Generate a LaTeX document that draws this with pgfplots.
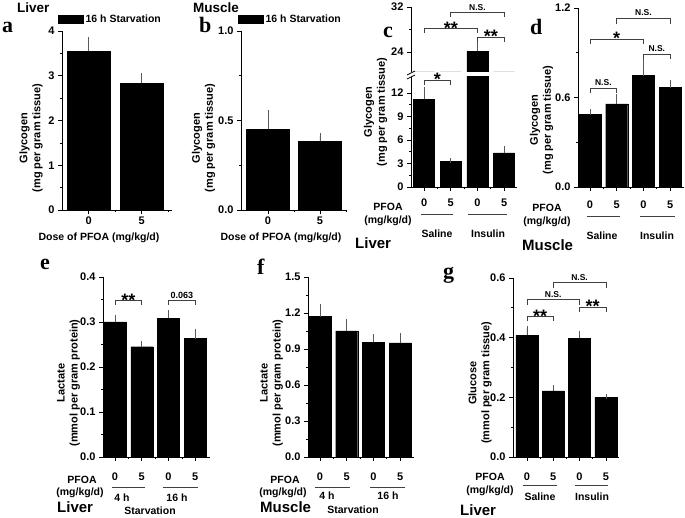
\documentclass[border=0pt]{standalone}
\usepackage{pgfplots}
\pgfplotsset{compat=1.18}
\usepackage{fontspec}
\setmainfont{Liberation Sans}
\newfontfamily\serifb{Liberation Serif}
\newcommand\tl{\fontsize{11}{12}\selectfont\bfseries}
\newcommand\yl{\fontsize{11}{13}\selectfont\bfseries}
\newcommand\an{\fontsize{10.5}{12}\selectfont\bfseries}
\newcommand\tit{\fontsize{13.5}{15}\selectfont\bfseries}
\newcommand\tis{\fontsize{15}{17}\selectfont\bfseries}
\newcommand\panl{\serifb\bfseries\fontsize{22}{24}\selectfont}
\newcommand\nsf{\fontsize{8.5}{10}\selectfont\bfseries}
\newcommand\starf{\fontsize{18}{20}\selectfont\bfseries}
\tikzset{brkstyle/.style={line width=0.7pt, black!75}, pl/.style={line width=0.8pt, black!75}}
\newcommand\brk[6]{%
 \draw[brkstyle] (axis cs:#1,#4) |- (axis cs:#2,#5) -- (axis cs:#2,#4);
 \node[font=\nsf, anchor=base, inner sep=0pt, yshift=2.5pt] at (axis cs:#3,#5) {#6};}
\newcommand\brs[6]{%
 \draw[brkstyle] (axis cs:#1,#4) |- (axis cs:#2,#5) -- (axis cs:#2,#4);
 \node[font=\starf, anchor=base, inner sep=0pt, yshift=-5.4pt] at (axis cs:#3,#5) {#6};}
\newcommand\xl[3]{\node[font=\tl, yshift=-#3pt] at (axis cs:#1,0) {#2};}
\pgfplotsset{
 base/.style={
  scale only axis, anchor=south west,
  axis x line*=bottom, axis y line*=left,
  axis line style={-, line width=0.7pt, black},
  every outer x axis line/.append style={-},
  every outer y axis line/.append style={-},
  tick align=outside, tick style={black, line width=0.7pt},
  major tick length=4pt, minor tick length=2.2pt,
  minor y tick num=1,
  xticklabels={},
  ymin=0,
  /pgf/number format/assume math mode=true,
  yticklabel style={font=\tl, /pgf/number format/.cd, fixed, fixed zerofill, precision=1},
  ybar,
  clip=false,
  enlargelimits=false,
 },
 bars/.style={fill=black, draw=black, line width=0.4pt, error bars/.cd, y dir=plus, y explicit, error bar style={line width=0.6pt, black!65}, error mark options={line width=0.6pt, black!65, mark size=2.5pt}},
}
\begin{document}
\begin{tikzpicture}[x=1pt,y=1pt]
\useasboundingbox (0,0) rectangle (685,518);
% ---------- a ----------
\begin{axis}[base, at={(62pt,308pt)}, width=110pt, height=179pt, xmin=-0.5, xmax=1.57, ymax=4,
  ytick={0,1,2,3,4}, yticklabel style={/pgf/number format/precision=0},
  xtick={0,1}, minor xtick={0.5,1.5}, bar width=43pt,
  legend style={at={(axis description cs:-0.036,1.067)}, anchor=west, draw=none, fill=none, font=\an, inner sep=0pt}]
\addplot[legend image code/.code={\fill[black] (0pt,-4pt) rectangle (25pt,4pt);}, bars] coordinates {(0,3.55) +- (0,0.25) (1,2.83) +- (0,0.17)};
\addlegendentry{16 h Starvation}
\xl{0}{0}{11}\xl{1}{5}{11}
\end{axis}
% ---------- b ----------
\begin{axis}[base, at={(241pt,308pt)}, width=106pt, height=179pt, xmin=-0.52, xmax=1.52, ymax=1,
  ytick={0,0.5,1}, xtick={0,1}, minor xtick={0.5,1.5}, bar width=43pt,
  legend style={at={(axis description cs:-0.028,1.067)}, anchor=west, draw=none, fill=none, font=\an, inner sep=0pt}]
\addplot[legend image code/.code={\fill[black] (0pt,-4pt) rectangle (25pt,4pt);}, bars] coordinates {(0,0.45) +- (0,0.095) (1,0.385) +- (0,0.03)};
\addlegendentry{16 h Starvation}
\xl{0}{0}{11}\xl{1}{5}{11}
\end{axis}
% ---------- c lower ----------
\begin{axis}[base, at={(411pt,331pt)}, width=106pt, height=110pt, xmin=-0.49, xmax=3.48, ymax=14.05,
  ytick={0,3,6,9,12}, yticklabel style={/pgf/number format/precision=0},
  xtick={0,1,2,3}, minor xtick={0.5,1.5,2.5}, bar width=21pt, clip=true, clip mode=individual]
\addplot[bars] coordinates {(0,11.2) +- (0,1.3) (1,3.25) +- (0,0.12) (2,24.1) +- (0,1.2) (3,4.35) +- (0,0.55)};
\brs{0}{1}{0.5}{13.03}{13.67}{*}
\xl{0}{0}{16}\xl{1}{5}{16}\xl{2}{0}{16}\xl{3}{5}{16}
\end{axis}
% ---------- c upper ----------
\begin{axis}[base, at={(411pt,446pt)}, width=106pt, height=65pt, xmin=-0.49, xmax=3.48, ymin=20.43, ymax=32,
  axis x line=none, ytick={24,32}, yticklabel style={/pgf/number format/precision=0},
  bar width=21pt, clip=true, clip mode=individual]
\addplot[bars] coordinates {(0,11.2) +- (0,1.3) (1,3.25) +- (0,0.12) (2,24.1) +- (0,1.2) (3,4.35) +- (0,0.55)};
\brs{0}{2}{1}{27.39}{28.11}{**}
\brs{2}{3}{2.5}{25.79}{26.68}{**}
\brk{1}{3}{2}{30.25}{30.96}{N.S.}
\end{axis}
% ---------- d ----------
\begin{axis}[base, at={(578pt,331pt)}, width=106pt, height=179pt, xmin=-0.45, xmax=3.52, ymax=1.2,
  ytick={0,0.6,1.2}, xtick={0,1,2,3}, minor xtick={0.5,1.5,2.5}, bar width=22pt]
\addplot[bars] coordinates {(0,0.485) +- (0,0.02) (1,0.557) +- (0,0.047) (2,0.747) +- (0,0.093) (3,0.666) +- (0,0.034)};
\brk{0}{1}{0.5}{0.63}{0.664}{N.S.}
\brk{2}{3}{2.5}{0.86}{0.89}{N.S.}
\brs{0}{2}{1}{0.96}{0.99}{*}
\brk{1}{3}{2}{1.09}{1.13}{N.S.}
\xl{0}{0}{18}\xl{1}{5}{18}\xl{2}{0}{18}\xl{3}{5}{18}
\end{axis}
% ---------- e ----------
\begin{axis}[base, at={(103pt,61pt)}, width=107pt, height=180pt, xmin=-0.45, xmax=3.55, ymax=0.4,
  ytick={0,0.1,0.2,0.3,0.4}, xtick={0,1,2,3}, minor xtick={0.5,1.5,2.5}, bar width=22pt]
\addplot[bars] coordinates {(0,0.300) +- (0,0.01) (1,0.245) +- (0,0.007) (2,0.308) +- (0,0.012) (3,0.263) +- (0,0.015)};
\brs{0}{1}{0.5}{0.338}{0.347}{**}
\brk{2}{3}{2.5}{0.338}{0.347}{\fontsize{9}{10}\selectfont 0.063}
\xl{0}{0}{20}\xl{1}{5}{20}\xl{2}{0}{20}\xl{3}{5}{20}
\end{axis}
% ---------- f ----------
\begin{axis}[base, at={(308pt,61pt)}, width=106pt, height=180pt, xmin=-0.45, xmax=3.52, ymax=1.5,
  ytick={0,0.3,0.6,0.9,1.2,1.5}, xtick={0,1,2,3}, minor xtick={0.5,1.5,2.5}, bar width=22pt]
\addplot[bars] coordinates {(0,1.17) +- (0,0.08) (1,1.05) +- (0,0.08) (2,0.955) +- (0,0.045) (3,0.95) +- (0,0.06)};
\xl{0}{0}{20}\xl{1}{5}{20}\xl{2}{0}{20}\xl{3}{5}{20}
\end{axis}
% ---------- g ----------
\begin{axis}[base, at={(513pt,61pt)}, width=106pt, height=179pt, xmin=-0.53, xmax=3.5, ymax=0.6,
  ytick={0,0.2,0.4,0.6}, xtick={0,1,2,3}, minor xtick={0.5,1.5,2.5}, bar width=22pt]
\addplot[bars] coordinates {(0,0.408) +- (0,0.024) (1,0.222) +- (0,0.01) (2,0.398) +- (0,0.015) (3,0.200) +- (0,0.002)};
\brs{0}{1}{0.5}{0.456}{0.47}{**}
\brk{0}{2}{1}{0.51}{0.527}{N.S.}
\brs{2}{3}{2.5}{0.487}{0.503}{**}
\brk{1}{3}{2}{0.567}{0.584}{N.S.}
\xl{0}{0}{20}\xl{1}{5}{20}\xl{2}{0}{20}\xl{3}{5}{20}
\end{axis}
% ---------- annotations (pixel coordinates, y downward) ----------
\begin{scope}[yshift=518pt, y=-1pt]
% break marks on c
\fill[white] (405,72.5) rectangle (417,76.5);
\draw[line width=0.7pt] (407,75) -- (415,71);
\draw[line width=0.7pt] (407,79) -- (415,75);
% titles and letters
\node[font=\tit, anchor=west, inner sep=0pt] at (17,8) {Liver};
\node[font=\tit, anchor=west, inner sep=0pt] at (193,8) {Muscle};
\node[font=\panl, anchor=base west, inner sep=0pt] at (2,33) {a};
\node[font=\panl, anchor=base west, inner sep=0pt] at (199,33) {b};
\node[font=\panl, anchor=base west, inner sep=0pt] at (383,38) {c};
\node[font=\panl, anchor=base west, inner sep=0pt] at (530,35) {d};
\node[font=\panl, anchor=base west, inner sep=0pt] at (40,270) {e};
\node[font=\panl, anchor=base west, inner sep=0pt] at (257,275) {f};
\node[font=\panl, anchor=base west, inner sep=0pt] at (443,279) {g};
% y labels
\node[font=\yl, rotate=90, align=center, inner sep=0pt] at (31,138) {Glycogen\\(mg per gram tissue)};
\node[font=\yl, rotate=90, align=center, inner sep=0pt] at (203.5,138) {Glycogen\\(mg per gram tissue)};
\node[font=\yl, rotate=90, align=center, inner sep=0pt] at (375.5,112) {Glycogen\\(mg per gram tissue)};
\node[font=\yl, rotate=90, align=center, inner sep=0pt] at (541.5,120) {Glycogen\\(mg per gram tissue)};
\node[font=\yl, rotate=90, align=center, inner sep=0pt] at (68.5,383) {Lactate\\(mmol per gram protein)};
\node[font=\yl, rotate=90, align=center, inner sep=0pt] at (271.5,383) {Lactate\\(mmol per gram protein)};
\node[font=\yl, rotate=90, align=center, inner sep=0pt] at (480,383) {Glucose\\(mmol per gram tissue)};
% a, b x labels
\node[font=\an] at (99,238) {Dose of PFOA (mg/kg/d)};
\node[font=\an] at (281,238) {Dose of PFOA (mg/kg/d)};
% c
\node[font=\an] at (388,207) {PFOA};
\node[font=\an] at (388,221) {(mg/kg/d)};
\draw[pl] (421,214) -- (453,214); \draw[pl] (468,214) -- (507,214);
\node[font=\an] at (437,234) {Saline};
\node[font=\an] at (488,234) {Insulin};
\node[font=\tis, anchor=west, inner sep=0pt] at (355,243) {Liver};
% d
\node[font=\an] at (547,208) {PFOA};
\node[font=\an] at (547,222) {(mg/kg/d)};
\draw[pl] (587,216) -- (620,216); \draw[pl] (640,216) -- (675,216);
\node[font=\an] at (602,236) {Saline};
\node[font=\an] at (657,236) {Insulin};
\node[font=\tis, anchor=west, inner sep=0pt] at (522,245) {Muscle};
% e
\node[font=\an] at (82,480) {PFOA};
\node[font=\an] at (80,493) {(mg/kg/d)};
\draw[pl] (112,487) -- (145,487); \draw[pl] (163,487) -- (198,487);
\node[font=\an] at (122,498) {4 h};
\node[font=\an] at (177,498) {16 h};
\node[font=\an] at (150,511) {Starvation};
\node[font=\tis, anchor=west, inner sep=0pt] at (57,507) {Liver};
% f
\node[font=\an] at (285,480) {PFOA};
\node[font=\an] at (283,493) {(mg/kg/d)};
\draw[pl] (315,487) -- (350,487); \draw[pl] (370,487) -- (405,487);
\node[font=\an] at (327,496) {4 h};
\node[font=\an] at (388,496) {16 h};
\node[font=\an] at (353,510) {Starvation};
\node[font=\tis, anchor=west, inner sep=0pt] at (260,507) {Muscle};
% g
\node[font=\an] at (490,477) {PFOA};
\node[font=\an] at (490,491) {(mg/kg/d)};
\draw[pl] (523,485) -- (557,485); \draw[pl] (575,485) -- (608,485);
\node[font=\an] at (540,497) {Saline};
\node[font=\an] at (592,497) {Insulin};
\node[font=\tis, anchor=west, inner sep=0pt] at (460,510) {Liver};
\end{scope}
\end{tikzpicture}
\end{document}
